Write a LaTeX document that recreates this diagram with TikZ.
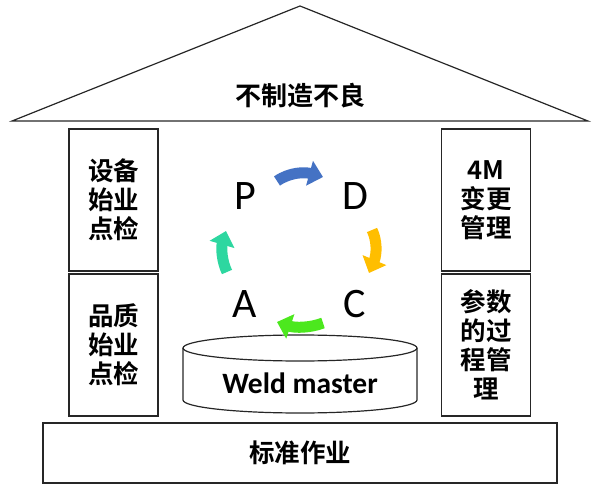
\documentclass[tikz,border=0pt]{standalone}
\usepackage{fontspec}
\setmainfont{Carlito}
\newfontfamily\cjk{Noto Sans CJK SC Bold}
\usepackage{tikz}
\usetikzlibrary{arrows.meta}

\definecolor{plancol}{RGB}{68,114,196}
\definecolor{docol}{RGB}{255,190,0}
\definecolor{checkcol}{RGB}{76,232,30}
\definecolor{actcol}{RGB}{45,215,160}

\tikzset{
  pillar/.style={draw=black!85, line width=1.2pt, minimum width=89, minimum height=142,
    align=center, font=\cjk\fontsize{25.5}{29}\selectfont},
  pdca/.style={font=\fontsize{42}{42}\selectfont},
  cycarrow/.style={line width=11pt, -{Triangle[width=25pt,length=14pt]}}
}

\begin{document}
\begin{tikzpicture}[x=1pt,y=-1pt]
\useasboundingbox (0,0) rectangle (598,495);
\draw[black!85, line width=1.2pt] (12,121) -- (300,6) -- (588,121) -- cycle;
\node[font=\cjk\fontsize{26}{29}\selectfont] (roof) at (300,96) {不制造不良};

\node[pillar] (eqcheck) at (113.5,200) {设备\\始业\\点检};
\node[pillar] (qcheck) at (113.5,345) {品质\\始业\\点检};
\node[pillar] (change) at (486,200) {4M\\变更\\管理};
\node[pillar] (param) at (486,345) {参数\\的过\\程管\\理};
\node[pillar, minimum width=514, minimum height=60] (base) at (300,453) {标准作业};

\draw[black!85, line width=1.2pt] (183,348) -- (183,400) arc (180:0:117 and 13) -- (417,348);
\draw[black!85, line width=1.2pt] (300,348) ellipse (117 and 13);
\node[font=\bfseries\fontsize{29.5}{29.5}\selectfont] (weld) at (300,383) {Weld master};

\node[pdca] (p) at (245,196) {P};
\node[pdca] (d) at (355,196) {D};
\node[pdca] (c) at (355,304) {C};
\node[pdca] (a) at (245,304) {A};

\draw[cycarrow, plancol] (277,181) .. controls (290,172) and (305,172) .. (323,177);
\draw[cycarrow, docol] (372,230) .. controls (377,240) and (377,254) .. (369,273);
\draw[cycarrow, checkcol] (323,323) .. controls (310,328) and (295,328) .. (277,322);
\draw[cycarrow, actcol] (227,272) .. controls (222,262) and (221,248) .. (226,231);
\end{tikzpicture}
\end{document}
